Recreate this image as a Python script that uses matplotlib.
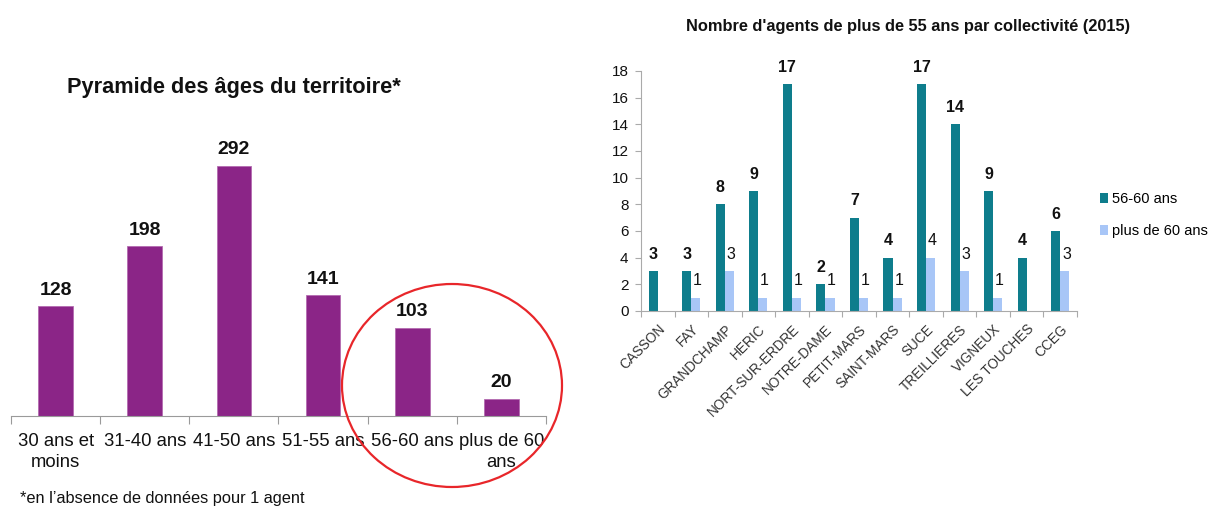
import matplotlib
matplotlib.use("Agg")
import matplotlib.pyplot as plt
from matplotlib.patches import Ellipse
import numpy as np

plt.rcParams['font.family'] = ['Liberation Sans', 'DejaVu Sans']

# ---- data ----
age_labels = ["30 ans et\nmoins", "31-40 ans", "41-50 ans", "51-55 ans", "56-60 ans", "plus de 60\nans"]
age_values = [128, 198, 292, 141, 103, 20]

communes = ["CASSON", "FAY", "GRANDCHAMP", "HERIC", "NORT-SUR-ERDRE", "NOTRE-DAME",
            "PETIT-MARS", "SAINT-MARS", "SUCE", "TREILLIERES", "VIGNEUX", "LES TOUCHES", "CCEG"]
s_56_60 = [3, 3, 8, 9, 17, 2, 7, 4, 17, 14, 9, 4, 6]
s_60plus = [None, 1, 3, 1, 1, 1, 1, 1, 4, 3, 1, None, 3]

W, H = 1209, 509
fig = plt.figure(figsize=(W / 100, H / 100), dpi=100)

def rect(x0, y_top, x1, y_bot):
    return [x0 / W, 1 - y_bot / H, (x1 - x0) / W, (y_bot - y_top) / H]

# ---- left chart ----
purple = "#8B2587"
ax1 = fig.add_axes(rect(11, 130, 546, 416))
x = np.arange(len(age_values))
ax1.bar(x, age_values, width=0.39, color=purple, edgecolor="#B46BB1", linewidth=0.6)
ax1.set_xlim(-0.5, len(age_values) - 0.5)
ax1.set_ylim(0, 292 * 286 / 250)
for s in ["top", "right", "left"]:
    ax1.spines[s].set_visible(False)
ax1.spines["bottom"].set_color("#9a9a9a")
ax1.set_yticks([])
ax1.set_xticks(np.arange(len(age_values) + 1) - 0.5)
ax1.set_xticklabels([])
ax1.tick_params(axis="x", direction="out", length=6, color="#9a9a9a")
ax1.set_xticks(x, minor=True)
ax1.set_xticklabels(age_labels, minor=True, fontsize=13.3, color="#111111", linespacing=1.3)
ax1.tick_params(axis="x", which="minor", length=0, pad=12)
for xi, v in zip(x, age_values):
    ax1.text(xi, v + 9, str(v), ha="center", va="bottom", fontsize=14, fontweight="bold", color="#111111")
fig.text(67 / W, 1 - 88 / H, "Pyramide des âges du territoire*", fontsize=15.7, fontweight="bold",
         ha="left", va="center", color="#111111")
fig.text(20 / W, 1 - 499 / H, "*en l\u2019absence de données pour 1 agent", fontsize=11.8,
         ha="left", va="center", color="#111111")

# ---- right chart ----
teal = "#0E7D8C"
light = "#A8C6F7"
ax2 = fig.add_axes(rect(641, 71, 1077, 311))
n = len(communes)
xc = np.arange(n)
bw = 0.27
v2 = [np.nan if v is None else v for v in s_60plus]
ax2.bar(xc - bw / 2, s_56_60, width=bw, color=teal, label="56-60 ans")
ax2.bar(xc + bw / 2, v2, width=bw, color=light, label="plus de 60 ans")
ax2.set_xlim(-0.5, n - 0.5)
ax2.set_ylim(0, 18)
ax2.set_yticks(np.arange(0, 19, 2))
ax2.tick_params(axis="y", direction="out", length=4, color="#aaaaaa", labelsize=11, pad=5,
                labelcolor="#111111")
for s in ["top", "right"]:
    ax2.spines[s].set_visible(False)
ax2.spines["left"].set_color("#aaaaaa")
ax2.spines["bottom"].set_color("#aaaaaa")
ax2.set_xticks(np.arange(n + 1) - 0.5)
ax2.set_xticklabels([])
ax2.tick_params(axis="x", direction="out", length=4, color="#aaaaaa")
ax2.set_xticks(xc, minor=True)
ax2.set_xticklabels(communes, minor=True, rotation=45, ha="right", va="top",
                    rotation_mode="anchor", fontsize=9.8, color="#333333")
ax2.tick_params(axis="x", which="minor", length=0, pad=8)
for xi, v in zip(xc, s_56_60):
    ax2.text(xi - bw / 2, v + 0.7, str(v), ha="center", va="bottom", fontsize=11.5,
             fontweight="bold", color="#111111")
for xi, v in zip(xc, s_60plus):
    if v is not None:
        ax2.text(xi + bw / 2 + 0.05, v + 0.7, str(v), ha="center", va="bottom", fontsize=11.5,
                 color="#111111")
leg = ax2.legend(loc="center left", bbox_to_anchor=(1.04, 0.40), frameon=False, fontsize=10.5,
                 handlelength=0.55, handleheight=0.7, handletextpad=0.25, labelspacing=1.25,
                 borderaxespad=0)
fig.text(908 / W, 1 - 27 / H, "Nombre d'agents de plus de 55 ans par collectivité (2015)",
         fontsize=11.8, fontweight="bold", ha="center", va="center", color="#111111")

# ---- red annotation circle ----
ov = fig.add_axes([0, 0, 1, 1], zorder=5)
ov.set_xlim(0, W)
ov.set_ylim(H, 0)
ov.axis("off")
ov.patch.set_alpha(0)
ov.add_patch(Ellipse((452, 385.5), 220, 203, fill=False, edgecolor="#E8262A", linewidth=1.6))

fig.savefig("out.png", dpi=100, facecolor="white")
